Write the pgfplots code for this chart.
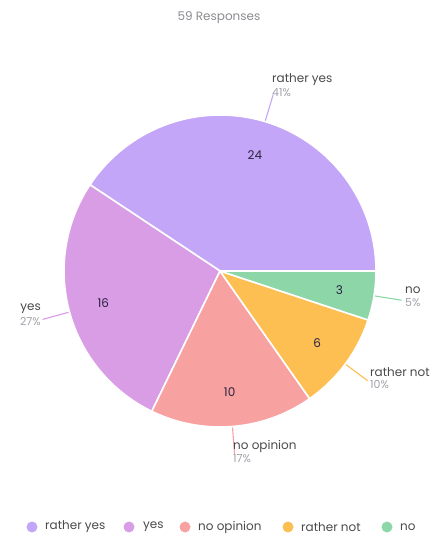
\documentclass[border=0pt]{standalone}
\usepackage{pgfplots}
\usepackage{pgfplotstable}
\pgfplotsset{compat=1.18}
\usepackage{fontspec}
\setmainfont{Poppins}

\definecolor{cRatherYes}{HTML}{C3A6F8}
\definecolor{cYes}{HTML}{D99DE6}
\definecolor{cNoOpinion}{HTML}{F7A1A1}
\definecolor{cRatherNot}{HTML}{FDBE52}
\definecolor{cNo}{HTML}{8DD6A8}
\definecolor{numcol}{HTML}{2B2340}
\definecolor{labcol}{HTML}{4A4A4A}
\definecolor{pctcol}{HTML}{A0A0A8}
\definecolor{titlecol}{HTML}{8A8A90}

% answers, counts and slice colours
\pgfplotstableread{
label          value  color
{rather yes}   24     cRatherYes
yes            16     cYes
{no opinion}   10     cNoOpinion
{rather not}   6      cRatherNot
no             3      cNo
}\pietable

\begin{document}
\begin{tikzpicture}
\begin{axis}[
  name=pie,
  width=434pt, height=544pt, scale only axis,
  xmin=0, xmax=434, ymin=0, ymax=544,
  hide axis, clip=false,
]
  % total of all answers
  \def\total{0}
  \pgfplotsforeachungrouped \i in {0,...,4}{%
    \pgfplotstablegetelem{\i}{value}\of\pietable
    \pgfmathsetmacro\total{\total+\pgfplotsretval}%
  }
  % slices, counted counter-clockwise from the east
  \def\cum{0}
  \pgfplotsforeachungrouped \i in {0,...,4}{%
    \pgfplotstablegetelem{\i}{value}\of\pietable \let\v\pgfplotsretval
    \pgfplotstablegetelem{\i}{color}\of\pietable \let\c\pgfplotsretval
    \pgfmathsetmacro\a{\cum/\total*360}%
    \pgfmathsetmacro\b{(\cum+\v)/\total*360}%
    \pgfmathsetmacro\m{(\a+\b)/2}%
    \edef\temp{%
      \noexpand\fill[fill=\c, draw=white, line width=1.6pt, line join=round]
        (axis cs:220,273) -- ++(\a:156pt) arc[start angle=\a, end angle=\b, radius=156pt] -- cycle;
      \noexpand\draw[\c, line width=1.1pt]
        ([shift={(\m:157pt)}]axis cs:220,273) -- ([shift={(\m:184pt)}]axis cs:220,273);
      \noexpand\node[text=numcol, font=\noexpand\fontsize{12}{14}\noexpand\selectfont]
        at ([shift={(\m:121pt)}]axis cs:220,273) {\v};
    }%
    \temp
    \pgfmathsetmacro\cum{\cum+\v}%
  }

  % outer labels
  \tikzset{lab/.style={text=labcol, font=\fontsize{12}{14}\selectfont, inner sep=0pt},
           pct/.style={text=pctcol, font=\fontsize{11}{13}\selectfont, inner sep=0pt}}
  \node[lab, anchor=west] at (axis cs:272,464) {rather yes};
  \node[pct, anchor=west] at (axis cs:272,451) {41\%};
  \node[lab, anchor=east] at (axis cs:41,235) {yes};
  \node[pct, anchor=east] at (axis cs:41,222) {27\%};
  \node[lab, anchor=west] at (axis cs:233,98) {no opinion};
  \node[pct, anchor=west] at (axis cs:233,85) {17\%};
  \node[lab, anchor=west] at (axis cs:370,172) {rather not};
  \node[pct, anchor=west] at (axis cs:370,159) {10\%};
  \node[lab, anchor=west] at (axis cs:405,254) {no};
  \node[pct, anchor=west] at (axis cs:405,241) {5\%};

  % heading
  \node[text=titlecol, font=\fontsize{12}{14}\selectfont] at (axis cs:219,526) {59 Responses};

  % legend row
  \tikzset{leg/.style={text=labcol, font=\fontsize{12}{14}\selectfont, anchor=west, inner sep=0pt}}
  \fill[cRatherYes] (axis cs:32,17) circle[radius=5.5pt];
  \node[leg] at (axis cs:45,17) {rather yes};
  \fill[cYes] (axis cs:129,17) circle[radius=5.5pt];
  \node[leg] at (axis cs:143,17) {yes};
  \fill[cNoOpinion] (axis cs:185,17) circle[radius=5.5pt];
  \node[leg] at (axis cs:198,17) {no opinion};
  \fill[cRatherNot] (axis cs:288,17) circle[radius=5.5pt];
  \node[leg] at (axis cs:301,17) {rather not};
  \fill[cNo] (axis cs:387,17) circle[radius=5.5pt];
  \node[leg] at (axis cs:400,17) {no};
\end{axis}
\pgfresetboundingbox
\path (pie.south west) rectangle (pie.north east);
\end{tikzpicture}
\end{document}
